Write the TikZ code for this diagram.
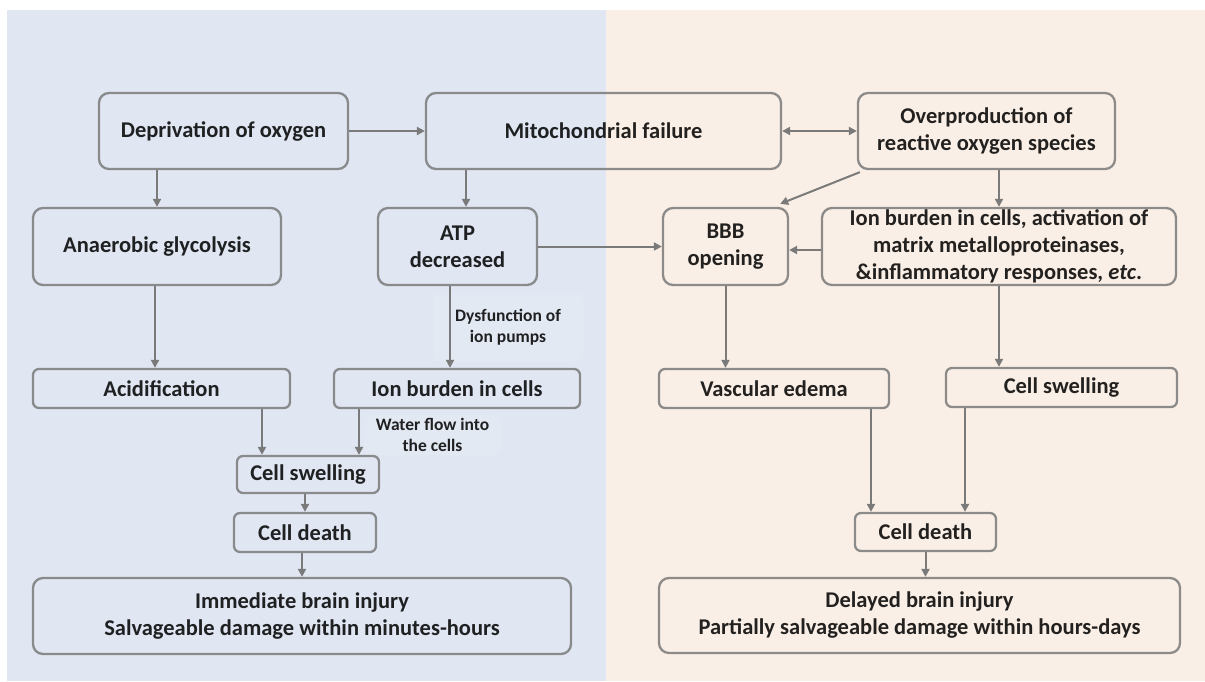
\documentclass[tikz,border=0pt]{standalone}
\usepackage{fontspec}
\setmainfont{Carlito}
\usetikzlibrary{arrows.meta,calc}
\definecolor{bgblue}{HTML}{E0E6F2}
\definecolor{bgbeige}{HTML}{FAEFE6}
\definecolor{edgecol}{HTML}{7A7A7A}
\definecolor{linecol}{HTML}{7A7A7A}
\begin{document}
\begin{tikzpicture}[x=1pt,y=-1pt,
  box/.style={draw=edgecol, draw opacity=0.85, line width=2.3pt, rounded corners=10pt,
    text=black, text opacity=0.86, font=\bfseries\fontsize{22.5}{27}\selectfont,
    align=center, inner sep=0pt, anchor=center},
  sbox/.style={box, rounded corners=6pt},
  lab/.style={font=\bfseries\fontsize{17.5}{21}\selectfont, text=black, text opacity=0.86,
    align=center, fill=white, fill opacity=0.12, rounded corners=8pt, inner sep=0pt},
  arr/.style={draw=linecol, line width=2pt, -{Triangle[length=8pt,width=8pt]}},
  dbl/.style={draw=linecol, line width=2pt, {Triangle[length=8pt,width=8pt]}-{Triangle[length=8pt,width=8pt]}}
]
\useasboundingbox (0,0) rectangle (1205,681);
\fill[bgblue] (7,10) rectangle (606,681);
\fill[bgbeige] (606,10) rectangle (1205,681);

% top row
\node[box, minimum width=249pt, minimum height=76pt] (dep) at (223.5,131) {Deprivation of oxygen};
\node[box, minimum width=355pt, minimum height=76pt] (mito) at (603.5,131) {Mitochondrial failure};
\node[box, minimum width=257pt, minimum height=76pt] (ros) at (986.5,131) {Overproduction of\\reactive oxygen species};
% second row
\node[box, minimum width=248pt, minimum height=77pt] (ana) at (157,246.5) {Anaerobic glycolysis};
\node[box, minimum width=159pt, minimum height=77pt] (atp) at (457.5,246.5) {ATP\\decreased};
\node[box, minimum width=125pt, minimum height=77pt] (bbb) at (725.5,246.5) {BBB\\opening};
\node[box, minimum width=354pt, minimum height=77pt] (ionr) at (999,246.5) {Ion burden in cells, activation of\\matrix metalloproteinases,\\\&inflammatory responses, \textit{etc}.};
% third row
\node[sbox, minimum width=257pt, minimum height=39pt] (acid) at (161.5,388.5) {Acidification};
\node[sbox, minimum width=246pt, minimum height=39pt] (ionl) at (457,388.5) {Ion burden in cells};
\node[sbox, minimum width=230pt, minimum height=39pt] (vasc) at (774,388.5) {Vascular edema};
\node[sbox, minimum width=231pt, minimum height=39pt] (cswr) at (1061.5,387.5) {Cell swelling};
% lower
\node[sbox, minimum width=142pt, minimum height=37pt] (cswl) at (308,474.5) {Cell swelling};
\node[sbox, minimum width=142pt, minimum height=39pt] (cdl) at (305,532.5) {Cell death};
\node[sbox, minimum width=141pt, minimum height=38pt] (cdr) at (925.5,532) {Cell death};
\node[box, minimum width=538pt, minimum height=76pt] (imm) at (302,616) {Immediate brain injury\\Salvageable damage within minutes-hours};
\node[box, minimum width=521pt, minimum height=75pt] (del) at (919.5,615.5) {Delayed brain injury\\Partially salvageable damage within hours-days};

% labels
\node[lab, minimum width=151pt, minimum height=69pt] (l1) at (508,327.5) {Dysfunction of\\ion pumps};
\node[lab, minimum width=137pt, minimum height=40pt] (l2) at (432.5,435) {Water flow into\\the cells};

% connectors
\draw[arr] (dep) -- (mito);
\draw[dbl] (mito) -- (ros);
\draw[arr] (ana.north |- dep.south) -- (ana.north);
\draw[arr] ([xshift=-137.5pt]mito.south) -- ([xshift=8.5pt]atp.north);
\draw[arr] ([shift={(3pt,-2pt)}]ros.south west) -- ([shift={(-9pt,3pt)}]bbb.north east);
\draw[arr] (ionr.north |- ros.south) -- (ionr.north);
\draw[arr] (atp) -- (bbb);
\draw[arr] ([yshift=-3.5pt]ionr.west) -- ([yshift=-3.5pt]bbb.east);
\draw[arr] ([xshift=-2pt]ana.south) -- ([xshift=-6.5pt]acid.north);
\draw[arr] ([xshift=-7.5pt]atp.south) -- ([xshift=-7pt]ionl.north);
\draw[arr] ([xshift=100.5pt]acid.south) -- ([xshift=-46pt]cswl.north);
\draw[arr] ([xshift=-98pt]ionl.south) -- ([xshift=51pt]cswl.north);
\draw[arr] (cdl.north |- cswl.south) -- (cdl.north);
\draw[arr] (imm.north |- cdl.south) -- (imm.north);
\draw[arr] (bbb.south) -- (bbb.south |- vasc.north);
\draw[arr] (ionr.south) -- (ionr.south |- cswr.north);
\draw[arr] ([xshift=97pt]vasc.south) -- ([xshift=-54.5pt]cdr.north);
\draw[arr] ([xshift=-96.5pt]cswr.south) -- ([xshift=39.5pt]cdr.north);
\draw[arr] (cdr.south) -- (cdr.south |- del.north);
\end{tikzpicture}
\end{document}
